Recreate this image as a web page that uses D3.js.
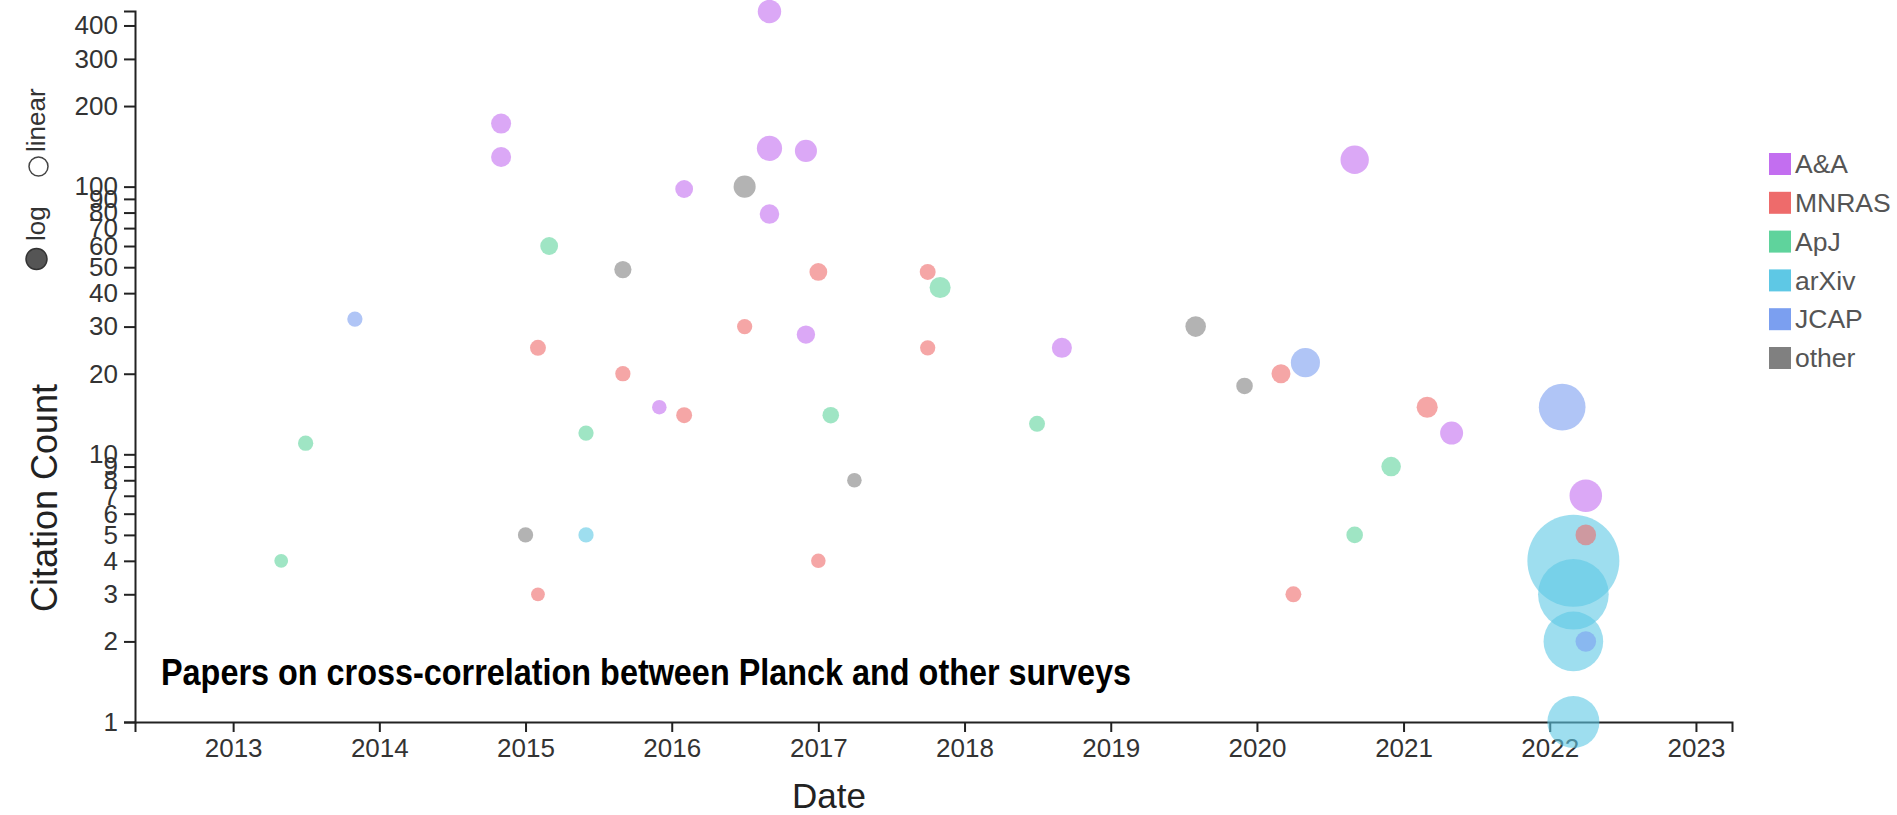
<!DOCTYPE html>
<html lang="en">
<head>
    <meta charset="UTF-8">
    <title>Planck cross-correlation papers</title>
    <script src="https://d3js.org/d3.v7.min.js"></script>
    <style>
        body {
            margin: 0;
            background: #fff;
            font-family: 'Liberation Sans', Arial, Helvetica, sans-serif;
        }
        .axis path, .axis line {
            stroke: #222;
            stroke-width: 2px;
        }
        .axis text {
            fill: #333;
            font-size: 26px;
            font-family: 'Liberation Sans', Arial, sans-serif;
        }
    </style>
</head>
<body>
    <div id="chart"></div>

    <script>
        // Paper data (publication month, citations, journal, reads)
        const dates = [
            "2013-05", "2013-07", "2013-11", "2014-11", "2014-11", "2015-01", "2015-02", "2015-02",
            "2015-03", "2015-06", "2015-06", "2015-09", "2015-09", "2015-12", "2016-02", "2016-02",
            "2016-07", "2016-07", "2016-09", "2016-09", "2016-09", "2016-12", "2016-12", "2017-01",
            "2017-01", "2017-02", "2017-04", "2017-10", "2017-10", "2017-11", "2018-07", "2018-09",
            "2019-08", "2019-12", "2020-03", "2020-04", "2020-05", "2020-09", "2020-09", "2020-12",
            "2021-03", "2021-05", "2022-02", "2022-03", "2022-03", "2022-03", "2022-03", "2022-04",
            "2022-04", "2022-04"
        ];
        const citations = [
            4, 11, 32, 172, 129, 5, 25, 3,
            60, 12, 5, 49, 20, 15, 98, 14,
            100, 30, 451, 139, 79, 136, 28, 48,
            4, 14, 8, 48, 25, 42, 13, 25,
            30, 18, 20, 3, 22, 126, 5, 9,
            15, 12, 15, 4, 3, 2, 1, 7,
            5, 2
        ];
        const journals = [
            "ApJ", "ApJ", "JCAP", "A&A", "A&A", "other", "MNRAS", "MNRAS",
            "ApJ", "ApJ", "arXiv", "other", "MNRAS", "A&A", "A&A", "MNRAS",
            "other", "MNRAS", "A&A", "A&A", "A&A", "A&A", "A&A", "MNRAS",
            "MNRAS", "ApJ", "other", "MNRAS", "MNRAS", "ApJ", "ApJ", "A&A",
            "other", "other", "MNRAS", "MNRAS", "JCAP", "A&A", "ApJ", "ApJ",
            "MNRAS", "A&A", "JCAP", "arXiv", "arXiv", "arXiv", "arXiv", "A&A",
            "MNRAS", "JCAP"
        ];
        const reads = [
            9, 11, 11, 19, 19, 11, 12, 9,
            15, 11, 11, 14, 11, 10, 15, 12,
            23, 11, 26, 30, 18, 23, 16, 15,
            10, 13, 10, 12, 11, 21, 12, 19,
            20, 13, 17, 12, 40, 38, 13, 18,
            21, 25, 103, 400, 236, 168, 128, 50,
            20, 20
        ];

        const categories = ["A&A", "MNRAS", "ApJ", "arXiv", "JCAP", "other"];
        const palette = ["#c36ef0", "#ee6b6b", "#5fd39c", "#5ec8e5", "#7b9ff0", "#808080"];

        const title = "Papers on cross-correlation between Planck and other surveys";

        const parseDate = d3.timeParse("%Y-%m");
        const data = dates.map((d, i) => ({
            date: parseDate(d),
            citations: citations[i],
            journal: journals[i],
            reads: reads[i]
        }));

        const width = 1897;
        const height = 815;
        const margin = { top: 11, right: 165, bottom: 93, left: 135 };

        const svg = d3.select("#chart")
            .append("svg")
            .attr("width", width)
            .attr("height", height);

        const [minDate, maxDate] = d3.extent(data, d => d.date);
        const x = d3.scaleTime()
            .domain([d3.timeYear.offset(minDate, -1), d3.timeYear.offset(maxDate, 1)])
            .range([margin.left, width - margin.right]);

        const y = d3.scaleLog()
            .domain([1, 453])
            .range([height - margin.bottom, margin.top]);

        const r = d3.scaleSqrt()
            .domain([0, 400])
            .range([0, 46]);

        const color = d3.scaleOrdinal()
            .domain(categories)
            .range(palette);

        // Axes
        svg.append("g")
            .attr("class", "axis")
            .attr("transform", `translate(0,${height - margin.bottom})`)
            .call(d3.axisBottom(x)
                .ticks(d3.timeYear.every(1))
                .tickFormat(d3.timeFormat("%Y"))
                .tickSize(10)
                .tickPadding(7));

        svg.append("g")
            .attr("class", "axis")
            .attr("transform", `translate(${margin.left},0)`)
            .call(d3.axisLeft(y)
                .tickFormat(d3.format("d"))
                .tickSize(11)
                .tickPadding(6));

        // Dots
        svg.append("g")
            .selectAll("circle")
            .data(data)
            .join("circle")
            .attr("cx", d => x(d.date))
            .attr("cy", d => y(d.citations))
            .attr("r", d => r(d.reads))
            .attr("fill", d => color(d.journal))
            .attr("fill-opacity", 0.6);

        // Axis labels
        svg.append("text")
            .attr("x", 829)
            .attr("y", 808)
            .attr("text-anchor", "middle")
            .attr("font-size", 35)
            .attr("fill", "#222")
            .text("Date");

        svg.append("text")
            .attr("transform", "translate(57,498) rotate(-90)")
            .attr("text-anchor", "middle")
            .attr("font-size", 36)
            .attr("fill", "#222")
            .text("Citation Count");

        // Scale toggle (log / linear)
        const toggle = svg.append("g");
        toggle.append("circle")
            .attr("cx", 36.5).attr("cy", 259)
            .attr("r", 10.5)
            .attr("fill", "#555").attr("stroke", "#333").attr("stroke-width", 1.5);
        toggle.append("text")
            .attr("transform", "translate(45,241) rotate(-90)")
            .attr("font-size", 26).attr("fill", "#333")
            .text("log");
        toggle.append("circle")
            .attr("cx", 38.5).attr("cy", 166.5)
            .attr("r", 9.5)
            .attr("fill", "#fff").attr("stroke", "#444").attr("stroke-width", 1.5);
        toggle.append("text")
            .attr("transform", "translate(45,152) rotate(-90)")
            .attr("font-size", 26).attr("fill", "#333")
            .text("linear");

        // Legend
        const legend = svg.append("g")
            .attr("transform", "translate(1769,153)");
        const rows = legend.selectAll("g")
            .data(categories)
            .join("g")
            .attr("transform", (d, i) => `translate(0,${i * 38.8})`);
        rows.append("rect")
            .attr("width", 22)
            .attr("height", 22)
            .attr("fill", d => color(d));
        rows.append("text")
            .attr("x", 26)
            .attr("y", 11)
            .attr("dy", "0.35em")
            .attr("font-size", 26.5)
            .attr("fill", "#555")
            .text(d => d);

        // Annotation
        svg.append("text")
            .attr("x", 161)
            .attr("y", 685)
            .attr("font-size", 37)
            .attr("font-weight", "bold")
            .attr("fill", "#000")
            .attr("textLength", 970)
            .attr("lengthAdjust", "spacingAndGlyphs")
            .text(title);
    </script>
</body>
</html>
